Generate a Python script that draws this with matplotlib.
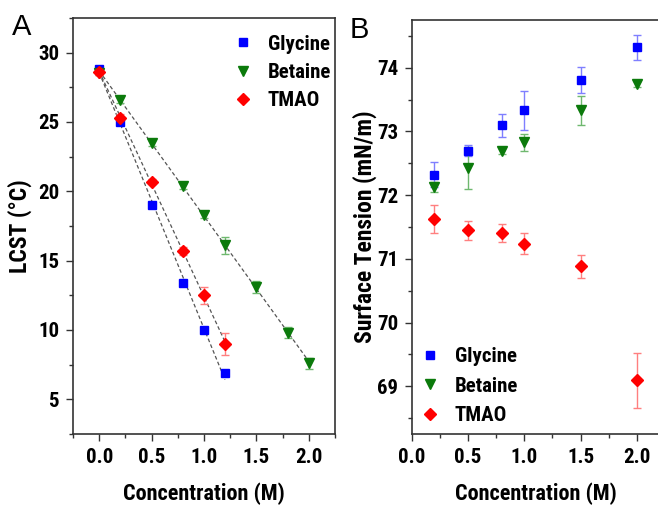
import numpy as np
import matplotlib
matplotlib.use("Agg")
import matplotlib.pyplot as plt
from matplotlib.lines import Line2D
from matplotlib.ticker import MultipleLocator, AutoMinorLocator

plt.rcParams['font.family'] = ['Roboto Condensed', 'Liberation Sans', 'DejaVu Sans']

# ---- panel A: LCST vs concentration ----
gly_x = [0.0, 0.2, 0.5, 0.8, 1.0, 1.2]
gly_lcst = [28.8, 25.0, 19.0, 13.4, 10.0, 6.9]
gly_lcst_err = [0.15, 0.15, 0.15, 0.15, 0.15, 0.15]

bet_x = [0.0, 0.2, 0.5, 0.8, 1.0, 1.2, 1.5, 1.8, 2.0]
bet_lcst = [28.5, 26.6, 23.5, 20.4, 18.3, 16.1, 13.1, 9.8, 7.6]
bet_lcst_err = [0.15, 0.2, 0.2, 0.2, 0.25, 0.6, 0.4, 0.4, 0.4]

tmao_x = [0.0, 0.2, 0.5, 0.8, 1.0, 1.2]
tmao_lcst = [28.6, 25.3, 20.7, 15.7, 12.5, 9.0]
tmao_lcst_err = [0.2, 0.3, 0.2, 0.3, 0.6, 0.8]

# ---- panel B: surface tension ----
st_x = [0.2, 0.5, 0.8, 1.0, 1.5, 2.0]
gly_st = [72.32, 72.70, 73.10, 73.33, 73.81, 74.32]
gly_st_err = [0.20, 0.08, 0.18, 0.31, 0.20, 0.20]
bet_st = [72.13, 72.43, 72.69, 72.83, 73.33, 73.74]
bet_st_err = [0.08, 0.33, 0.05, 0.13, 0.23, 0.05]
tmao_st = [71.62, 71.45, 71.40, 71.24, 70.88, 69.09]
tmao_st_err = [0.22, 0.15, 0.14, 0.16, 0.18, 0.43]

names = ['Glycine', 'Betaine', 'TMAO']
colors = ['#0000ff', '#0b7a0b', '#ff0000']
ecolors = ['#7f7fff', '#6fb86f', '#ff7f7f']
markers = ['s', 'v', 'D']
msizes = [6, 7, 6]

fig = plt.figure(figsize=(6.58, 5.08), dpi=100)
axA = fig.add_axes([0.111, 0.1457, 0.398, 0.819])
axB = fig.add_axes([0.626, 0.1457, 0.376, 0.815])

label_font = dict(fontsize=16, fontweight='bold')

A_data = [(gly_x, gly_lcst, gly_lcst_err), (bet_x, bet_lcst, bet_lcst_err),
          (tmao_x, tmao_lcst, tmao_lcst_err)]
for (x, y, e), c, ec, m, ms in zip(A_data, colors, ecolors, markers, msizes):
    x = np.array(x)
    k, b = np.polyfit(x, y, 1)
    axA.plot([x.min(), x.max()], [k * x.min() + b, k * x.max() + b],
             ls=(0, (3, 2)), color='#555555', lw=0.9, zorder=1)
    axA.errorbar(x, y, yerr=e, fmt=m, color=c, ecolor=ec, elinewidth=1,
                 capsize=3, ms=ms, mec=c, zorder=3)

B_data = [(gly_st, gly_st_err), (bet_st, bet_st_err), (tmao_st, tmao_st_err)]
for (y, e), c, ec, m, ms in zip(B_data, colors, ecolors, markers, msizes):
    axB.errorbar(st_x, y, yerr=e, fmt=m, color=c, ecolor=ec, elinewidth=1,
                 capsize=3, ms=ms, mec=c, zorder=3)

handles = [Line2D([], [], ls='none', marker=m, color=c, ms=ms)
           for m, c, ms in zip(markers, colors, msizes)]

axA.set_xlim(-0.25, 2.25)
axA.set_ylim(2.5, 32.5)
axA.xaxis.set_major_locator(MultipleLocator(0.5))
axA.xaxis.set_minor_locator(AutoMinorLocator(2))
axA.yaxis.set_major_locator(MultipleLocator(5))
axA.yaxis.set_minor_locator(AutoMinorLocator(2))
axA.set_xlabel('Concentration (M)', labelpad=11, **label_font)
axA.set_ylabel('LCST (°C)', labelpad=4, fontsize=17, fontweight='bold')
axA.text(-0.235, 1.012, 'A', transform=axA.transAxes, fontsize=21,
         family='Liberation Sans', va='top')
axA.legend(handles, names, loc='upper left', bbox_to_anchor=(0.56, 0.98),
           frameon=False, handletextpad=0.5, borderaxespad=0.0,
           labelspacing=0.45, handlelength=1.4,
           prop=dict(size=15, weight='bold'))

axB.set_xlim(0.0, 2.2)
axB.set_ylim(68.25, 74.75)
axB.xaxis.set_major_locator(MultipleLocator(0.5))
axB.xaxis.set_minor_locator(AutoMinorLocator(2))
axB.yaxis.set_major_locator(MultipleLocator(1))
axB.yaxis.set_minor_locator(AutoMinorLocator(2))
axB.set_xlabel('Concentration (M)', labelpad=11, **label_font)
axB.set_ylabel('Surface Tension (mN/m)', labelpad=0, fontsize=17, fontweight='bold')
axB.text(-0.25, 1.01, 'B', transform=axB.transAxes, fontsize=21,
         family='Liberation Sans', va='top')
axB.legend(handles, names, loc='upper left', bbox_to_anchor=(-0.02, 0.23),
           frameon=False, handletextpad=0.5, borderaxespad=0.0,
           labelspacing=0.5, handlelength=1.4,
           prop=dict(size=15, weight='bold'))

for ax in (axA, axB):
    ax.tick_params(which='both', direction='out', width=1, color='#333333', pad=5)
    ax.tick_params(which='major', length=5)
    ax.tick_params(which='minor', length=3)
    for lab in ax.get_xticklabels() + ax.get_yticklabels():
        lab.set_fontsize(15)
        lab.set_fontweight('bold')
    for s in ax.spines.values():
        s.set_linewidth(1.2)
        s.set_color('#333333')

fig.savefig('out.png', dpi=100)
